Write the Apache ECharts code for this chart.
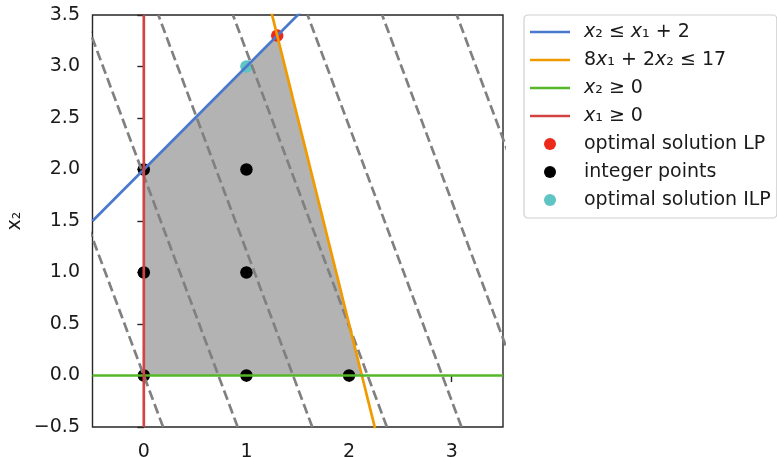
<!DOCTYPE html>
<html>
<head>
<meta charset="utf-8">
<script src="https://cdn.jsdelivr.net/npm/echarts@6/dist/echarts.min.js"></script>
<style>html,body{margin:0;padding:0;background:#fff}#c{width:777px;height:457px}</style>
</head>
<body>
<div id="c"></div>
<script>
// ---- data ----
const xRange = [-0.5, 3.5];
const yRange = [-0.5, 3.5];
const xTicks = [0, 1, 2, 3];
// constraint lines (end points)
const lineC1 = [[-0.5, 1.5], [3.5, 5.5]];        // x2 = x1 + 2
const lineC2 = [[1.0, 4.5], [2.5, -1.5]];         // 8x1 + 2x2 = 17
const lineC3 = [[-0.5, 0], [3.5, 0]];             // x2 = 0
const lineC4 = [[0, -0.5], [0, 3.5]];             // x1 = 0
// feasible region vertices
const feasible = [[0, 0], [0, 2], [1.3, 3.3], [2.125, 0]];
// integer points
const intPoints = [[0, 0], [0, 1], [0, 2], [1, 0], [1, 1], [1, 2], [2, 0]];
const lpOpt = [[1.3, 3.3]];
const ilpOpt = [[1, 3]];
// objective contour lines: x-intercepts (at x2 = 0) and slope
const contourIntercepts = [0, 0.727, 1.454, 2.181, 2.908, 3.635, 4.362];
const contourSlope = -8 / 3;

const names = ['c1', 'c2', 'c3', 'c4', 'lp', 'int', 'ilp'];
const labels = {
  c1: '{i|x}{n|₂ ≤ }{i|x}{n|₁ + 2}',
  c2: '{n|8}{i|x}{n|₁ + 2}{i|x}{n|₂ ≤ 17}',
  c3: '{i|x}{n|₂ ≥ 0}',
  c4: '{i|x}{n|₁ ≥ 0}',
  lp: '{n|optimal solution LP}',
  int: '{n|integer points}',
  ilp: '{n|optimal solution ILP}'
};
const colors = {
  c1: '#4a78cc', c2: '#f09a00', c3: '#55b82a', c4: '#d24343',
  lp: '#ec2a1c', int: '#000000', ilp: '#5fc4c4'
};
const LW = 2.7;
const FS = 19;
const TXT = '#1a1a1a';

const series = [];
series.push({
  type: 'custom', name: 'region', z: 1, clip: true, silent: true,
  data: [0],
  renderItem: function (params, api) {
    const pts = feasible.map(p => api.coord(p));
    return { type: 'polygon', shape: { points: pts }, style: { fill: '#b3b3b3' } };
  }
});
series.push({ type: 'scatter', name: 'int', data: intPoints, symbolSize: 12.5, z: 2,
  itemStyle: { color: colors.int, opacity: 1 } });
series.push({ type: 'scatter', name: 'lp', data: lpOpt, symbolSize: 12.5, z: 2,
  itemStyle: { color: colors.lp, opacity: 1 } });
series.push({ type: 'scatter', name: 'ilp', data: ilpOpt, symbolSize: 12.5, z: 2,
  itemStyle: { color: colors.ilp, opacity: 1 } });
contourIntercepts.forEach((x0, k) => {
  const pA = [x0 + yRange[0] / contourSlope, yRange[0]];
  const pB = [x0 + yRange[1] / contourSlope, yRange[1]];
  series.push({ type: 'line', name: 'obj' + k, data: [pA, pB], symbol: 'none', z: 3,
    silent: true, clip: true,
    lineStyle: { color: '#808080', width: LW, type: [10, 4.5] } });
});
[['c1', lineC1], ['c2', lineC2], ['c3', lineC3], ['c4', lineC4]].forEach(([n, d]) => {
  series.push({ type: 'line', name: n, data: d, symbol: 'none', z: 4, clip: true,
    lineStyle: { color: colors[n], width: LW }, itemStyle: { color: colors[n] } });
});

const lineIcon = 'path://M0 0H40V2.7H0Z';
const fmt = v => (v < 0 ? '−' : '') + Math.abs(v).toFixed(1);
const chart = echarts.init(document.getElementById('c'), null, { renderer: 'canvas' });
chart.setOption({
  animation: false,
  backgroundColor: '#fff',
  grid: { left: 92.5, top: 15, width: 410.5, height: 412, show: true,
    containLabel: false, outerBoundsMode: 'none',
    borderColor: '#262626', borderWidth: 1.4, backgroundColor: 'transparent' },
  xAxis: {
    type: 'value', min: xRange[0], max: xRange[1],
    axisLine: { show: false },
    splitLine: { show: false },
    axisTick: { show: true, inside: false, length: 6.5, customValues: xTicks,
      lineStyle: { color: '#262626', width: 1.4 } },
    axisLabel: { customValues: xTicks, margin: 16, fontFamily: 'DejaVu Sans', fontSize: FS,
      color: TXT, formatter: v => String(v) }
  },
  yAxis: {
    type: 'value', min: yRange[0], max: yRange[1], interval: 0.5,
    axisLine: { show: false },
    splitLine: { show: false },
    axisTick: { show: true, inside: false, length: 6.5, lineStyle: { color: '#262626', width: 1.4 } },
    axisLabel: { margin: 12.5, fontFamily: 'DejaVu Sans', fontSize: FS, color: TXT, formatter: fmt },
    name: 'x₂', nameLocation: 'middle', nameRotate: 90, nameGap: 68, nameMoveOverlap: false,
    nameTextStyle: { fontFamily: 'DejaVu Sans', fontSize: FS, color: TXT }
  },
  legend: {
    data: names.map(n => ({ name: n, icon: (n === 'lp' || n === 'int' || n === 'ilp') ? 'circle' : lineIcon })),
    orient: 'vertical', left: 524, top: 15,
    padding: [6, 6, 7, 6], itemGap: 6, itemWidth: 40, itemHeight: 12,
    backgroundColor: '#fff', borderColor: '#d0d0d0', borderWidth: 1.2, borderRadius: 4,
    selectedMode: false,
    formatter: n => labels[n],
    textStyle: { fontFamily: 'DejaVu Sans', fontSize: FS, color: TXT, lineHeight: 22,
      padding: [0, 0, 0, 9],
      rich: {
        i: { fontFamily: 'DejaVu Sans', fontStyle: 'italic', fontSize: FS, color: TXT, lineHeight: 22 },
        n: { fontFamily: 'DejaVu Sans', fontSize: FS, color: TXT, lineHeight: 22 }
      } }
  },
  series: series
});
</script>
</body>
</html>
